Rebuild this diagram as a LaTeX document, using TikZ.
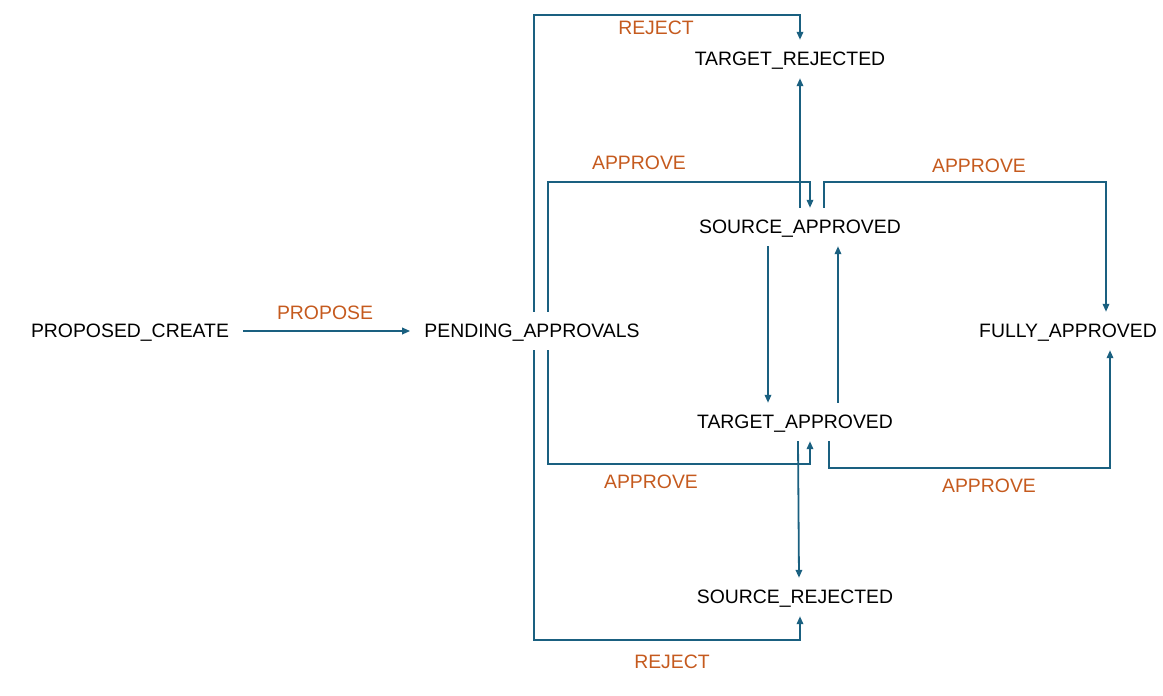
\documentclass[tikz,border=0pt]{standalone}
\usepackage{fontspec}
\setmainfont{Liberation Sans}
\usetikzlibrary{arrows.meta}
\usepackage{xcolor}
\definecolor{flowblue}{RGB}{26,96,128}
\definecolor{lblorange}{RGB}{197,90,30}

\begin{document}
\begin{tikzpicture}[x=1pt,y=-1pt,>={Triangle[length=8pt,width=6.5pt]},
  font=\fontsize{19.4pt}{23pt}\selectfont,
  state/.style={inner xsep=14pt,inner ysep=0pt,minimum height=38pt,text height=13.9pt,text depth=0pt},
  lbl/.style={text=lblorange,inner sep=0pt,text height=13.9pt,text depth=0pt},
  flow/.style={->,draw=flowblue,line width=1.8pt}]
\useasboundingbox (0,0) rectangle (1163,696);
\node[state] (pc) at (130,331) {PROPOSED\_CREATE};
\node[state] (pend) at (532,331) {PENDING\_APPROVALS};
\node[state] (tr) at (790,59) {TARGET\_REJECTED};
\node[state] (sa) at (800,227) {SOURCE\_APPROVED};
\node[state] (ta) at (795,422) {TARGET\_APPROVED};
\node[state] (sr) at (795,597) {SOURCE\_REJECTED};
\node[state] (fa) at (1068,331) {FULLY\_APPROVED};
\draw[flow] (pc.east) -- (pend.west);
\draw[flow] ([xshift=2pt]pend.north) -- ++(0,-297) -| ([xshift=10pt]tr.north);
\draw[flow] ([xshift=2pt]pend.south) -- ++(0,290) -| ([xshift=5pt]sr.south);
\draw[flow] ([xshift=16pt]pend.north) -- ++(0,-130) -| ([xshift=10pt]sa.north);
\draw[flow] ([xshift=16pt]pend.south) -- ++(0,114) -| ([xshift=15pt]ta.south);
\draw[flow] (sa.north) -- ([xshift=10pt]tr.south);
\draw[flow] ([xshift=24pt]sa.north) -- ++(0,-26) -| ([xshift=38pt]fa.north);
\draw[flow] ([xshift=-32pt]sa.south) -- ([xshift=-27pt]ta.north);
\draw[flow] ([xshift=43pt]ta.north) -- ([xshift=38pt]sa.south);
\draw[flow] ([xshift=3pt]ta.south) -- ([xshift=4pt]sr.north);
\draw[flow] ([xshift=34pt]ta.south) -- ++(0,27) -| ([xshift=42pt]fa.south);
\node[lbl] (lPropose) at (325,313) {PROPOSE};
\node[lbl] (lRejTop) at (656,28) {REJECT};
\node[lbl] (lRejBot) at (672,662) {REJECT};
\node[lbl] (lAppSa) at (639,163) {APPROVE};
\node[lbl] (lAppTa) at (651,482) {APPROVE};
\node[lbl] (lAppFaTop) at (979,166) {APPROVE};
\node[lbl] (lAppFaBot) at (989,486) {APPROVE};
\end{tikzpicture}
\end{document}
